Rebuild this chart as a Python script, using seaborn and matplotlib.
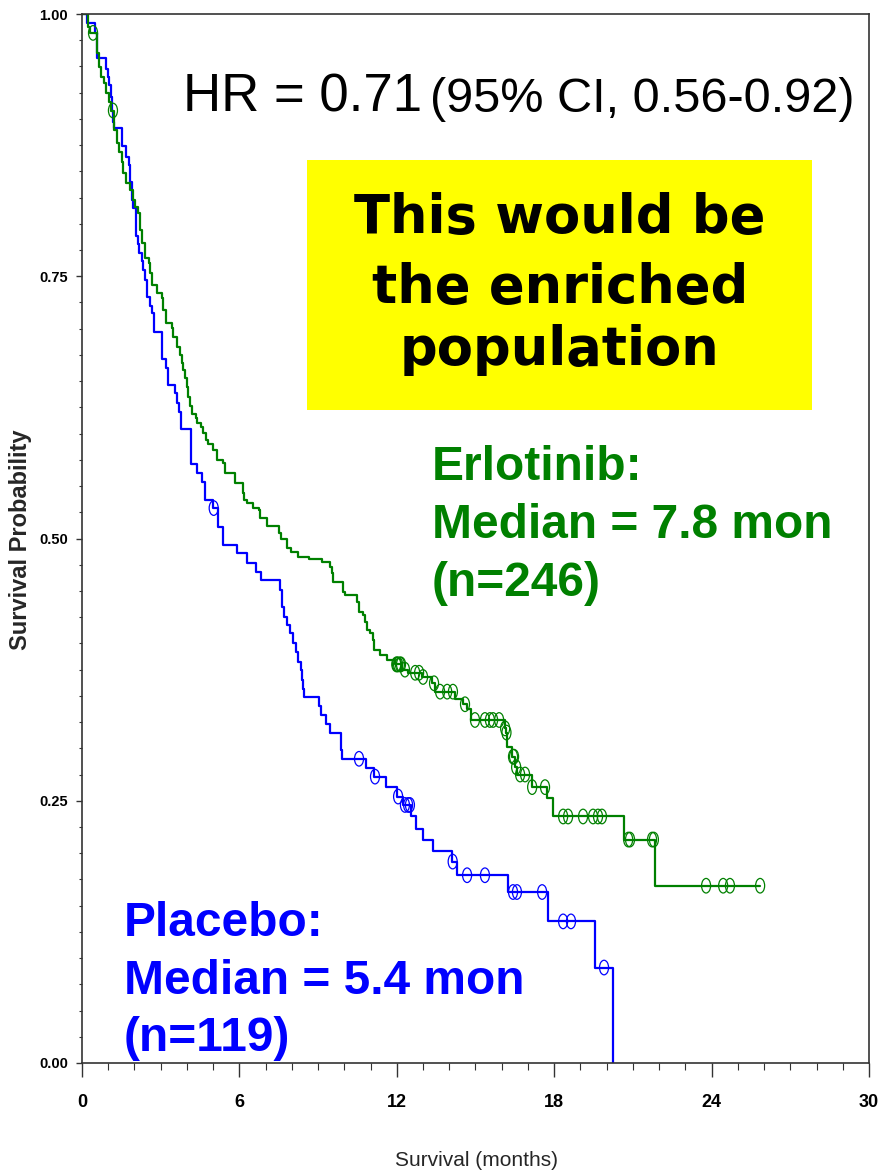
import numpy as np
import pandas as pd
import matplotlib
matplotlib.use("Agg")
import matplotlib.pyplot as plt
import seaborn as sns
from matplotlib.path import Path
from matplotlib.transforms import Affine2D
from matplotlib.patches import Rectangle
from matplotlib.ticker import MultipleLocator

# ---------------- data ----------------
placebo_time = [0.00, 0.20, 0.50, 0.56, 0.58, 0.92, 1.00, 1.04, 1.11, 1.16, 1.19, 1.23,
                1.52, 1.68, 1.78, 1.83, 1.92, 1.96, 2.05, 2.15, 2.17, 2.28, 2.32, 2.40,
                2.48, 2.60, 2.67, 2.74, 3.05, 3.20, 3.28, 3.55, 3.62, 3.70, 3.79, 4.16,
                4.40, 4.56, 4.69, 5.00, 5.20, 5.38, 5.91, 6.29, 6.63, 6.82, 7.55, 7.62,
                7.70, 7.82, 7.93, 8.04, 8.16, 8.23, 8.35, 8.39, 8.43, 8.46, 9.04, 9.11,
                9.30, 9.45, 9.87, 9.91, 10.83, 11.13, 11.59, 12.01, 12.25, 12.54, 12.73,
                13.00, 13.38, 14.11, 14.30, 16.24, 17.77, 19.56, 20.24]
placebo_surv = [1.000, 0.991, 0.982, 0.974, 0.958, 0.948, 0.940, 0.932, 0.921, 0.908, 0.897, 0.891,
                0.874, 0.864, 0.856, 0.840, 0.823, 0.815, 0.788, 0.781, 0.772, 0.765, 0.756, 0.746,
                0.730, 0.722, 0.715, 0.697, 0.671, 0.663, 0.646, 0.639, 0.629, 0.621, 0.604, 0.571,
                0.562, 0.554, 0.537, 0.529, 0.511, 0.494, 0.486, 0.477, 0.468, 0.460, 0.451, 0.435,
                0.425, 0.418, 0.410, 0.400, 0.392, 0.382, 0.375, 0.365, 0.357, 0.349, 0.340, 0.332,
                0.323, 0.315, 0.298, 0.290, 0.281, 0.273, 0.263, 0.254, 0.246, 0.235, 0.223,
                0.213, 0.202, 0.192, 0.179, 0.163, 0.135, 0.091, 0.000]
placebo_censor = [5.02, 10.56, 11.17, 12.05, 12.31, 12.43, 12.50, 14.13, 14.68, 15.36,
                  16.43, 16.58, 17.54, 18.34, 18.64, 19.90]

erlotinib_time = [0.00, 0.23, 0.30, 0.57, 0.65, 0.72, 0.84, 0.91, 1.03, 1.11, 1.22, 1.33,
                  1.41, 1.52, 1.56, 1.68, 1.83, 1.94, 2.02, 2.13, 2.21, 2.29, 2.40, 2.55,
                  2.59, 2.67, 2.86, 3.05, 3.09, 3.20, 3.43, 3.47, 3.62, 3.74, 3.81, 3.85,
                  3.93, 4.00, 4.04, 4.12, 4.19, 4.35, 4.38, 4.54, 4.61, 4.73, 4.80, 4.99,
                  5.15, 5.38, 5.45, 5.83, 6.14, 6.18, 6.29, 6.52, 6.75, 6.79, 7.05, 7.51,
                  7.59, 7.82, 7.97, 8.23, 8.65, 9.15, 9.45, 9.53, 9.57, 9.95, 10.03, 10.48,
                  10.56, 10.71, 10.79, 10.87, 10.98, 11.09, 11.13, 11.36, 11.63, 11.95, 12.20,
                  12.43, 12.96, 13.34, 13.46, 14.22, 14.53, 14.68, 14.83, 16.13, 16.16, 16.20,
                  16.39, 16.51, 16.58, 17.16, 17.73, 17.96, 20.66, 21.85, 25.85]
erlotinib_surv = [1.000, 0.988, 0.982, 0.963, 0.949, 0.940, 0.934, 0.925, 0.916, 0.908, 0.889, 0.877,
                  0.868, 0.859, 0.848, 0.839, 0.832, 0.823, 0.816, 0.810, 0.794, 0.782, 0.767, 0.763,
                  0.753, 0.742, 0.734, 0.729, 0.718, 0.705, 0.701, 0.692, 0.683, 0.675, 0.667, 0.661,
                  0.653, 0.644, 0.635, 0.626, 0.619, 0.615, 0.610, 0.606, 0.601, 0.594, 0.590, 0.584,
                  0.575, 0.572, 0.562, 0.553, 0.543, 0.537, 0.534, 0.529, 0.527, 0.520, 0.512, 0.505,
                  0.500, 0.491, 0.487, 0.482, 0.480, 0.478, 0.473, 0.467, 0.459, 0.449, 0.446, 0.439,
                  0.430, 0.427, 0.420, 0.413, 0.410, 0.403, 0.394, 0.389, 0.384, 0.380, 0.375,
                  0.372, 0.368, 0.362, 0.354, 0.347, 0.342, 0.337, 0.327, 0.319, 0.315, 0.301,
                  0.292, 0.282, 0.275, 0.263, 0.253, 0.235, 0.213, 0.169, 0.169]
erlotinib_censor = [0.42, 1.18, 11.98, 12.01, 12.05, 12.12, 12.16, 12.31, 12.70, 12.85, 13.00,
                    13.42, 13.65, 13.92, 14.14, 14.60, 14.98, 15.36, 15.55, 15.67, 15.90, 16.13,
                    16.18, 16.43, 16.47, 16.55, 16.70, 16.89, 17.16, 17.65, 18.34, 18.53, 19.10,
                    19.48, 19.67, 19.82, 20.82, 20.89, 21.73, 21.80, 23.79, 24.44, 24.70, 25.85]

x_ticks = [0, 6, 12, 18, 24, 30]
y_ticks = [0.00, 0.25, 0.50, 0.75, 1.00]
y_tick_labels = ["0.00", "0.25", "0.50", "0.75", "1.00"]

BLUE = "#0000FF"
GREEN = "#008000"

# ---------------- figure ----------------
sns.set_style("ticks")
plt.rcParams['font.family'] = ['Liberation Sans', 'DejaVu Sans']
NARROW = ['Liberation Sans Narrow', 'Liberation Sans', 'DejaVu Sans']

W, H = 879, 1176
fig = plt.figure(figsize=(W / 100, H / 100), dpi=100)
ax = fig.add_axes([82 / W, 1 - 1063 / H, (869 - 82) / W, (1063 - 14) / H])


def surv_at(times, survs, t):
    idx = np.searchsorted(np.asarray(times), np.asarray(t), side='right') - 1
    return np.asarray(survs)[idx]


ell = Path.unit_circle().transformed(Affine2D().scale(0.62, 1.0))

for times, survs, cens, col in [(placebo_time, placebo_surv, placebo_censor, BLUE),
                                (erlotinib_time, erlotinib_surv, erlotinib_censor, GREEN)]:
    df = pd.DataFrame({"t": times, "s": survs})
    sns.lineplot(data=df, x="t", y="s", drawstyle="steps-post", color=col,
                 linewidth=1.6, estimator=None, sort=False, ax=ax)
    cdf = pd.DataFrame({"t": cens, "s": surv_at(times, survs, cens)})
    sns.scatterplot(data=cdf, x="t", y="s", marker=ell, s=110, facecolor="none",
                    edgecolor=col, linewidth=0.9, ax=ax, zorder=4)

ax.set_xlim(0, 30)
ax.set_ylim(0, 1)
ax.set_xticks(x_ticks)
ax.set_xticklabels([str(v) for v in x_ticks])
ax.set_yticks(y_ticks)
ax.set_yticklabels(y_tick_labels)
ax.xaxis.set_minor_locator(MultipleLocator(1))
ax.yaxis.set_minor_locator(MultipleLocator(0.025))
ax.tick_params(axis='x', which='major', length=10, width=1, direction='out', pad=12, colors='#333333')
ax.tick_params(axis='x', which='minor', length=5, width=0.8, direction='out', colors='#333333')
ax.tick_params(axis='y', which='major', length=4, width=1, direction='out', pad=6, colors='#333333')
ax.tick_params(axis='y', which='minor', length=2.5, width=0.8, direction='out', colors='#333333')
for lab in ax.get_xticklabels() + ax.get_yticklabels():
    lab.set_fontfamily(NARROW)
    lab.set_fontweight('bold')
    lab.set_color('black')
for lab in ax.get_xticklabels():
    lab.set_fontsize(13)
for lab in ax.get_yticklabels():
    lab.set_fontsize(10.5)

for sp in ax.spines.values():
    sp.set_visible(True)
    sp.set_color('#333333')
    sp.set_linewidth(1.2)

ax.set_xlabel("Survival (months)", fontsize=15, family=NARROW)
ax.xaxis.set_label_coords((477 - 82) / 787, (1063 - 1161) / 1049)
ax.xaxis.label.set_va('center')
ax.set_ylabel("Survival Probability", fontsize=17, fontweight='bold')
ax.yaxis.set_label_coords((21 - 82) / 787, (1063 - 540) / 1049)
ax.yaxis.label.set_va('center')

# ---------------- annotations ----------------
def fy(py):
    return 1 - py / H

fig.text(183 / W, fy(112), "HR = 0.71", fontsize=38, color='black', va='baseline', ha='left')
fig.text(855 / W, fy(112), "(95% CI, 0.56-0.92)", fontsize=35, color='black', va='baseline', ha='right')

fig.patches.append(Rectangle((307 / W, fy(410)), (812 - 307) / W, (410 - 160) / H,
                             transform=fig.transFigure, facecolor='#FFFF00', edgecolor='none', zorder=0))
for txt, base in [("This would be", 233), ("the enriched", 303), ("population", 365)]:
    fig.text(560 / W, fy(base), txt, fontsize=38, fontweight='bold', family=['DejaVu Sans'],
             color='black', ha='center', va='baseline', zorder=2)

for txt, base in [("Erlotinib:", 480), ("Median = 7.8 mon", 538), ("(n=246)", 596)]:
    fig.text(432 / W, fy(base), txt, fontsize=34.5, fontweight='bold', color=GREEN,
             ha='left', va='baseline')
for txt, base in [("Placebo:", 936), ("Median = 5.4 mon", 994), ("(n=119)", 1051)]:
    fig.text(124 / W, fy(base), txt, fontsize=34.5, fontweight='bold', color=BLUE,
             ha='left', va='baseline')

fig.savefig("out.png", dpi=100)
